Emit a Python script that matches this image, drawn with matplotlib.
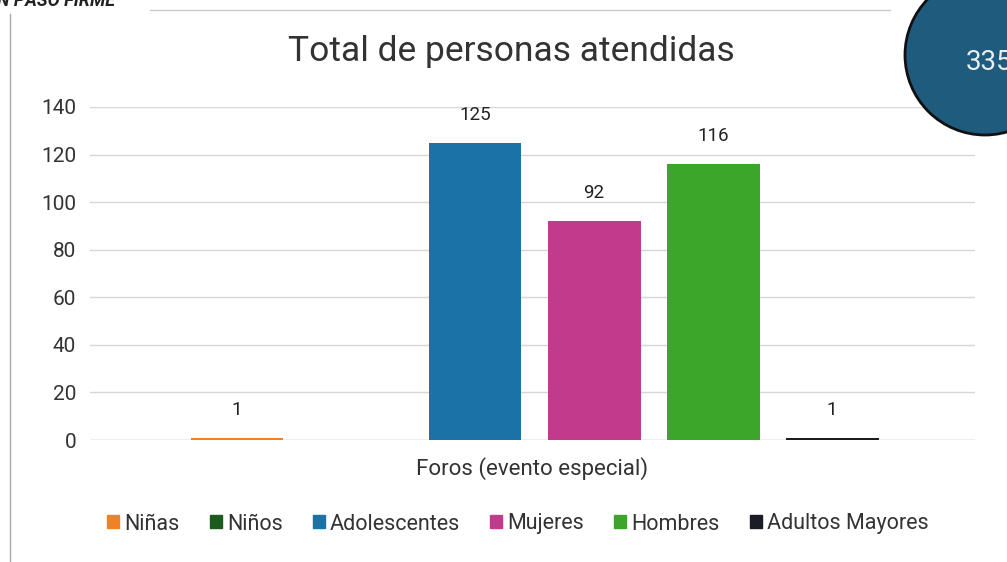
import matplotlib.pyplot as plt
from matplotlib.patches import Circle, Patch

# data
categorias = ["Niñas", "Niños", "Adolescentes", "Mujeres", "Hombres", "Adultos Mayores"]
valores = [1, 0, 125, 92, 116, 1]
etiquetas = ["1", "", "125", "92", "116", "1"]
colores = ["#f08224", "#1d5a1d", "#1b72a4", "#c13a8c", "#3ba62a", "#1a1c26"]
yticks = [0, 20, 40, 60, 80, 100, 120, 140]
titulo = "Total de personas atendidas"
xlabel = "Foros (evento especial)"
total = "335"

plt.rcParams['font.family'] = ['Roboto', 'DejaVu Sans']

fig = plt.figure(figsize=(10.07, 5.62), dpi=100)
fig.patch.set_facecolor("white")
ax = fig.add_axes([90 / 1007, 1 - 440 / 562, 885 / 1007, 333 / 562])

pos = list(range(len(categorias)))
ax.bar(pos, valores, width=0.78, color=colores, zorder=3)
for p, v, t in zip(pos, valores, etiquetas):
    if t:
        ax.text(p, v + 8, t, ha="center", va="bottom", fontsize=13.5, color="#222222")

ax.set_xlim(-1.235, 6.2)
ax.set_ylim(0, 140)
ax.set_yticks(yticks)
ax.set_xticks([])
ax.tick_params(axis="y", length=0, pad=10, labelsize=15, labelcolor="#333333")
ax.grid(axis="y", color="#d6d6d6", linewidth=1, zorder=0)
for s in ax.spines.values():
    s.set_visible(False)
ax.axhline(0, color="#cfcfcf", linewidth=1, zorder=2)

ax.set_xlabel(xlabel, fontsize=16, color="#333333", labelpad=12)
fig.text(511 / 1007, 1 - 52 / 562, titulo, ha="center", va="center", fontsize=25.5, color="#333333")

handles = [Patch(color=c) for c in colores]
fig.legend(handles, categorias, loc="center", bbox_to_anchor=(518 / 1007, 1 - 524 / 562),
           ncol=6, frameon=False, fontsize=15.5, handlelength=0.55, handleheight=0.55,
           handletextpad=0.25, columnspacing=1.4, labelcolor="#333333")

# page decoration
fig.add_artist(plt.Line2D([10 / 1007, 10 / 1007], [0, 1 - 14 / 562], color="#aaaaaa", linewidth=1))
fig.add_artist(plt.Line2D([150 / 1007, 890 / 1007], [1 - 10 / 562, 1 - 10 / 562], color="#cccccc", linewidth=1))
fig.text(-3 / 1007, 1 - 1 / 562, "N PASO FIRME", ha="left", va="center", fontsize=13,
         fontweight="bold", style="italic", color="#222222")

circ = Circle((9.85, 5.07), 0.80, transform=fig.dpi_scale_trans,
              facecolor="#1e5b7d", edgecolor="#111111", linewidth=2)
fig.add_artist(circ)
fig.text(966 / 1007, 1 - 62 / 562, total, ha="left", va="center", fontsize=20, color="#e8eef2")

fig.savefig("out.png", dpi=100)
